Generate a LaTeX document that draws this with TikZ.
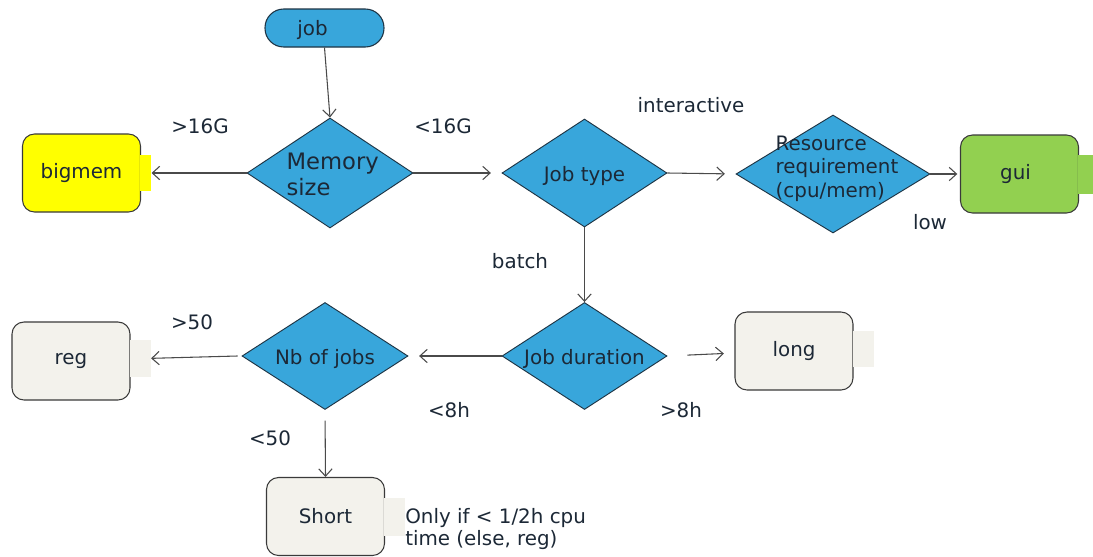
\documentclass[tikz,border=0pt]{standalone}
\usepackage{fontspec}
\setmainfont{DejaVu Sans}
\usetikzlibrary{shapes.geometric,arrows.meta}

\definecolor{decblue}{HTML}{38A6DB}
\definecolor{decedge}{HTML}{1E3444}
\definecolor{boxedge}{HTML}{3A3A3A}
\definecolor{paleend}{HTML}{F3F2EC}
\definecolor{guigreen}{HTML}{92D050}
\definecolor{brightyellow}{HTML}{FFFF00}
\definecolor{inktext}{HTML}{1C2836}
\definecolor{wire}{HTML}{4A4A4A}

\tikzset{
  base/.style={font=\fontsize{14.9}{17.5}\selectfont, text=inktext},
  decision/.style={diamond, draw=decedge, fill=decblue, line width=0.7pt,
    inner sep=0pt, base},
  inlabel/.style={base, yshift=-2.5pt},
  endbox/.style={draw=boxedge, line width=0.8pt, rounded corners=9pt,
    minimum width=118*0.75pt, minimum height=78*0.75pt, inner sep=0pt, base},
  boxtab/.style={rectangle, inner sep=0pt, anchor=west},
  pill/.style={draw=decedge, fill=decblue, line width=0.8pt,
    rounded corners=14pt, minimum width=119*0.75pt, minimum height=38*0.75pt,
    inner sep=0pt, base},
  edgelabel/.style={base, inner sep=0pt},
  flow/.style={draw=wire, line width=0.8pt,
    -{Straight Barb[length=5.5pt,width=10pt,line width=0.8pt]}},
}

\begin{document}
\begin{tikzpicture}[x=0.75pt,y=-0.75pt]
\fill[white] (0,0) rectangle (1093,557);
\useasboundingbox (0,0) rectangle (1093,557);

% start
\node[pill, label={[base,xshift=-9pt,yshift=-1.5pt]center:job}] (job) at (324.5,28) {};

% decisions
\node[decision, minimum width=166*0.75pt, minimum height=110*0.75pt,
  label={[font=\fontsize{17}{20}\selectfont, text=inktext, align=left, xshift=2pt, yshift=-1pt]center:Memory\\size}]
  (mem) at (330,173) {};
\node[decision, minimum width=165*0.75pt, minimum height=108*0.75pt,
  label={[inlabel]center:Job type}] (jobtype) at (584.5,173) {};
\node[decision, minimum width=194*0.75pt, minimum height=118*0.75pt,
  label={[base, align=left, yshift=4pt, xshift=3pt]center:Resource\\requirement\\(cpu/mem)}]
  (res) at (833,174) {};
\node[decision, minimum width=165*0.75pt, minimum height=107*0.75pt,
  label={[inlabel]center:Job duration}] (dur) at (584.5,356) {};
\node[decision, minimum width=166*0.75pt, minimum height=107*0.75pt,
  label={[inlabel]center:Nb of jobs}] (nb) at (325,356) {};

% end boxes with their side tabs
\node[endbox, fill=brightyellow] (bigmem) at (81.5,173) {bigmem};
\node[boxtab, fill=brightyellow, minimum width=11*0.75pt, minimum height=36*0.75pt]
  (bigmemtab) at ([xshift=-0.75pt]bigmem.east) {};

\node[endbox, fill=guigreen] (gui) at (1019.5,174) {\hspace*{-6pt}gui};
\node[boxtab, fill=guigreen, minimum width=16*0.75pt, minimum height=39*0.75pt]
  (guitab) at ([xshift=-0.75pt]gui.east) {};

\node[endbox, fill=paleend] (long) at (794,351) {long};
\node[boxtab, fill=paleend, minimum width=21*0.75pt, minimum height=36*0.75pt]
  (longtab) at ([xshift=-0.75pt,yshift=1.5pt]long.east) {};

\node[endbox, fill=paleend] (reg) at (71,361) {reg};
\node[boxtab, fill=paleend, minimum width=21*0.75pt, minimum height=37*0.75pt]
  (regtab) at ([xshift=-0.75pt,yshift=2pt]reg.east) {};

\node[endbox, fill=paleend] (short) at (325.5,516.5) {Short};
\node[boxtab, fill=paleend, minimum width=21*0.75pt, minimum height=38*0.75pt]
  (shorttab) at ([xshift=-0.75pt]short.east) {};

% connectors
\draw[flow] (job.south) -- (mem.north);
\draw[flow] (mem.west) -- (bigmemtab.east);
\draw[flow, shorten >=8pt] (mem.east) -- (jobtype.west);
\draw[flow, shorten >=8pt] (jobtype.east) -- (res.west);
\draw[flow, shorten >=2pt] (res.east) -- (gui.west);
\draw[flow] (jobtype.south) -- (dur.north);
\draw[flow, shorten <=15pt, shorten >=8pt] (dur.east) -- ([yshift=-1.5pt]long.west);
\draw[flow, shorten >=8pt] (dur.west) -- (nb.east);
\draw[flow] ([xshift=-3pt]nb.west) -- (regtab.east);
\draw[flow, shorten <=8pt] (nb.south) -- (short.north);

% branch labels
\node[edgelabel] (lbig) at (200,126) {>16G};
\node[edgelabel] (lsmall) at (443,126) {<16G};
\node[edgelabel] (linter) at (691,105) {interactive};
\node[edgelabel] (llow) at (930,222) {low};
\node[edgelabel] (lbatch) at (520,261) {batch};
\node[edgelabel] (lgt8) at (681,410) {>8h};
\node[edgelabel] (llt8) at (449,410) {<8h};
\node[edgelabel] (lgt50) at (192,322) {>50};
\node[edgelabel] (llt50) at (270,438) {<50};
\node[edgelabel, anchor=west, align=left,
  font=\fontsize{14.9}{16.5}\selectfont] (note) at (405,529)
  {Only if < 1/2h cpu\\time (else, reg)};
\end{tikzpicture}
\end{document}
